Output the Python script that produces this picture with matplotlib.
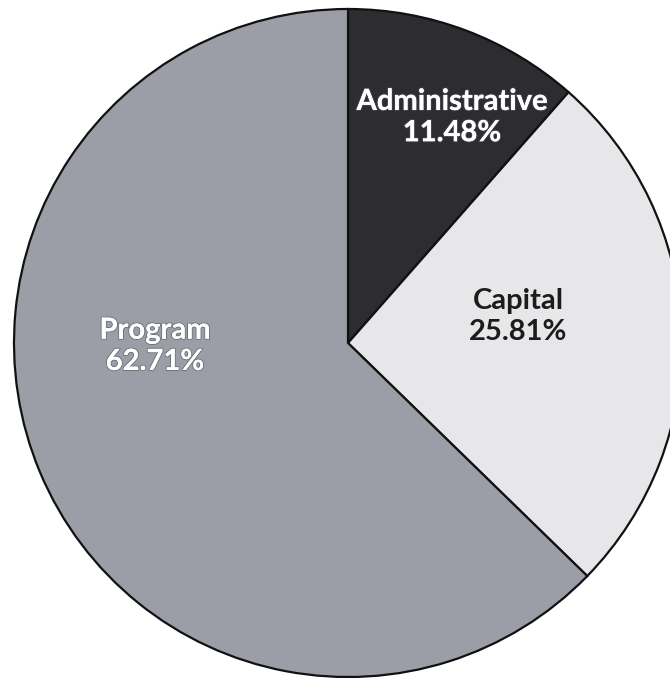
import matplotlib.pyplot as plt
import matplotlib.patheffects as pe

labels = ['Administrative', 'Capital', 'Program']
shares = [11.48, 25.81, 62.71]
colors = ['#2c2c31', '#e7e7e9', '#9c9ea7']
text_colors = ['white', '#1c1c1c', 'white']
# label centres in data units (pie radius = 1)
label_pos = [(0.311, 0.675), (0.509, 0.08), (-0.578, -0.01)]

fig = plt.figure(figsize=(6.70, 6.81), dpi=100)
ax = fig.add_axes([0, 0, 1, 1])

wedges, _ = ax.pie(shares, colors=colors, startangle=90, counterclock=False,
                   wedgeprops=dict(edgecolor='#111111', linewidth=1.6))

for (x, y), lab, val, tc in zip(label_pos, labels, shares, text_colors):
    t = ax.text(x, y, '%s\n%.2f%%' % (lab, val), ha='center', va='center',
                color=tc, fontsize=21, fontweight='bold', family='Lato',
                linespacing=1.25)
    if tc == 'white':
        t.set_path_effects([pe.withStroke(linewidth=1.5, foreground='#55565c',
                                          alpha=0.6),
                            pe.Normal()])

# pie centre at pixel (348, 343), radius 334 px
r = 334.0
ax.set_xlim(-348 / r, (670 - 348) / r)
ax.set_ylim(-(681 - 343) / r, 343 / r)
ax.set_aspect('auto')
ax.axis('off')

fig.savefig('out.png', dpi=100)
